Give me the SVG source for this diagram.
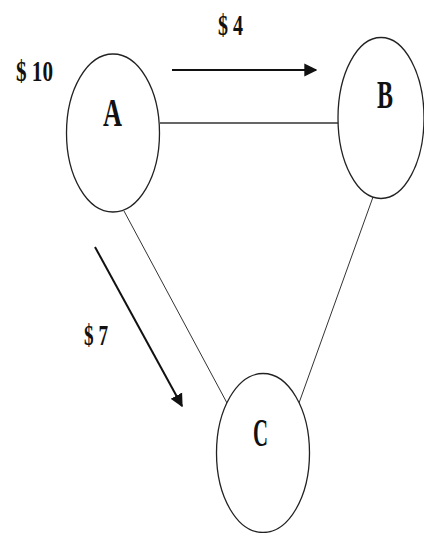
<svg xmlns="http://www.w3.org/2000/svg" width="424" height="533" viewBox="0 0 424 533">
<style>
.node{fill:#fff;stroke:#222;stroke-width:1.3}
.lbl{font-family:"Liberation Serif","Times New Roman",serif;font-weight:bold;fill:#111}
.edge{stroke:#333;fill:none}
.arr{stroke:#111;stroke-width:2;fill:none}
</style>
<defs>
<marker id="ah" viewBox="0 0 10 10" refX="9" refY="5" markerWidth="13" markerHeight="14" markerUnits="userSpaceOnUse" orient="auto">
<path d="M0,0 L10,5 L0,10 Z" fill="#111"/>
</marker>
</defs>
<g id="connectors">
<line class="edge" x1="160" y1="123" x2="338" y2="123" stroke-width="1.6"/>
<line class="edge" x1="124" y1="211" x2="227" y2="403" stroke-width="1"/>
<line class="edge" x1="373" y1="197" x2="299" y2="403" stroke-width="1"/>
<line class="arr" x1="172" y1="70" x2="316" y2="70" marker-end="url(#ah)"/>
<line class="arr" x1="95" y1="247" x2="182" y2="406" marker-end="url(#ah)"/>
</g>
<g id="nodeA">
<ellipse class="node" cx="113" cy="133" rx="46.5" ry="79"/>
<text class="lbl" x="103" y="126" font-size="41" textLength="19" lengthAdjust="spacingAndGlyphs">A</text>
</g>
<g id="nodeB">
<ellipse class="node" cx="381" cy="118" rx="43" ry="80.5"/>
<text class="lbl" x="377" y="108" font-size="39" textLength="16" lengthAdjust="spacingAndGlyphs">B</text>
</g>
<g id="nodeC">
<ellipse class="node" cx="263" cy="453" rx="46.5" ry="79.5"/>
<text class="lbl" x="253" y="446" font-size="41" textLength="15" lengthAdjust="spacingAndGlyphs">C</text>
</g>
<g id="labels">
<text class="lbl" x="16" y="81" font-size="30" textLength="37" lengthAdjust="spacingAndGlyphs">$ 10</text>
<text class="lbl" x="218" y="35" font-size="30" textLength="25" lengthAdjust="spacingAndGlyphs">$ 4</text>
<text class="lbl" x="84" y="345" font-size="30" textLength="24" lengthAdjust="spacingAndGlyphs">$ 7</text>
</g>
</svg>
